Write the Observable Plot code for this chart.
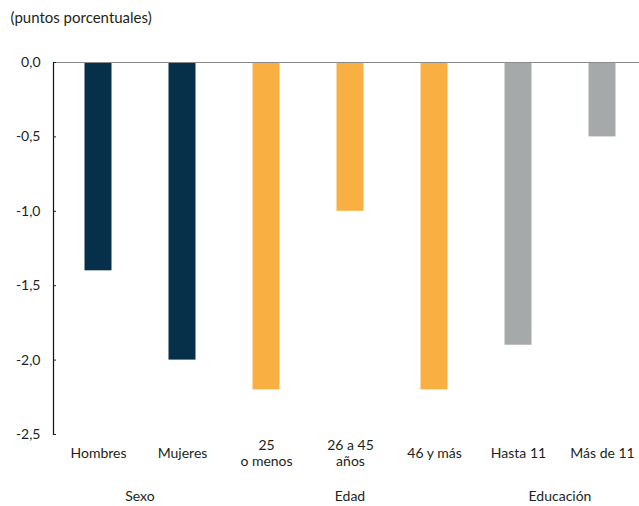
<!DOCTYPE html>
<html>
<head>
<meta charset="utf-8">
<script src="https://cdn.jsdelivr.net/npm/d3@7"></script>
<script src="https://cdn.jsdelivr.net/npm/@observablehq/plot@0.6"></script>
<style>
  html, body { margin: 0; padding: 0; background: #fff; }
  #chart svg { display: block; }
</style>
</head>
<body>
<div id="chart"></div>
<script>
// Variación por grupo, en puntos porcentuales
const categories = ["Hombres", "Mujeres", "25\no menos", "26 a 45\naños", "46 y más", "Hasta 11", "Más de 11"];
const values = [-1.4, -2.0, -2.2, -1.0, -2.2, -1.9, -0.5];
const groupOf = ["Sexo", "Sexo", "Edad", "Edad", "Edad", "Educación", "Educación"];
const groupNames = ["Sexo", "Edad", "Educación"];
const groupColors = ["#06304a", "#f9af42", "#a6a9aa"];
const yTicks = [0, -0.5, -1.0, -1.5, -2.0, -2.5];
const unitLabel = "(puntos porcentuales)";

const rows = categories.map((c, i) => ({cat: c, value: values[i], group: groupOf[i]}));
const fmt = d => d.toFixed(1).replace(".", ",");
const font = "Lato, 'Open Sans', sans-serif";

const chart = Plot.plot({
  width: 639,
  height: 506,
  marginTop: 62,
  marginBottom: 72,
  marginLeft: 53,
  marginRight: 0,
  style: {fontFamily: font, fontSize: "14px", color: "#231f20", background: "#fff"},
  x: {domain: categories, range: [53, 646], padding: 0, axis: null},
  y: {domain: [-2.5, 0], ticks: yTicks, tickFormat: fmt},
  color: {domain: groupNames, range: groupColors},
  marks: [
    Plot.barY(rows, {x: "cat", y: "value", fill: "group", insetLeft: 28.5, insetRight: 28.5}),
    Plot.ruleY([0], {stroke: "#8a8a8a", strokeWidth: 1.2}),
    Plot.frame({anchor: "left", stroke: "#111", strokeWidth: 1.2}),
    Plot.axisY({ticks: yTicks, tickFormat: fmt, tickSize: -3, tickPadding: 16, label: null, fontSize: 14}),
    Plot.text(rows, {x: "cat", text: "cat", frameAnchor: "bottom", lineAnchor: "middle", dy: 18, lineHeight: 1.15, fontSize: 14, fill: "#231f20"}),
    Plot.text([unitLabel], {frameAnchor: "top-left", text: d => d, textAnchor: "start", lineAnchor: "middle", dx: -43, dy: -44, fontSize: 15, fill: "#231f20"})
  ]
});

// Etiquetas de grupo centradas bajo sus categorías
const xs = chart.scale("x");
const svg = d3.select(chart);
groupNames.forEach(g => {
  const centers = categories.filter((c, i) => groupOf[i] === g).map(c => xs.apply(c) + xs.bandwidth / 2);
  svg.append("text")
    .attr("x", d3.mean(centers))
    .attr("y", 496)
    .attr("dy", "0.35em")
    .attr("text-anchor", "middle")
    .attr("font-family", font)
    .attr("font-size", 14)
    .attr("fill", "#231f20")
    .text(g);
});

document.getElementById("chart").appendChild(chart);
</script>
</body>
</html>
